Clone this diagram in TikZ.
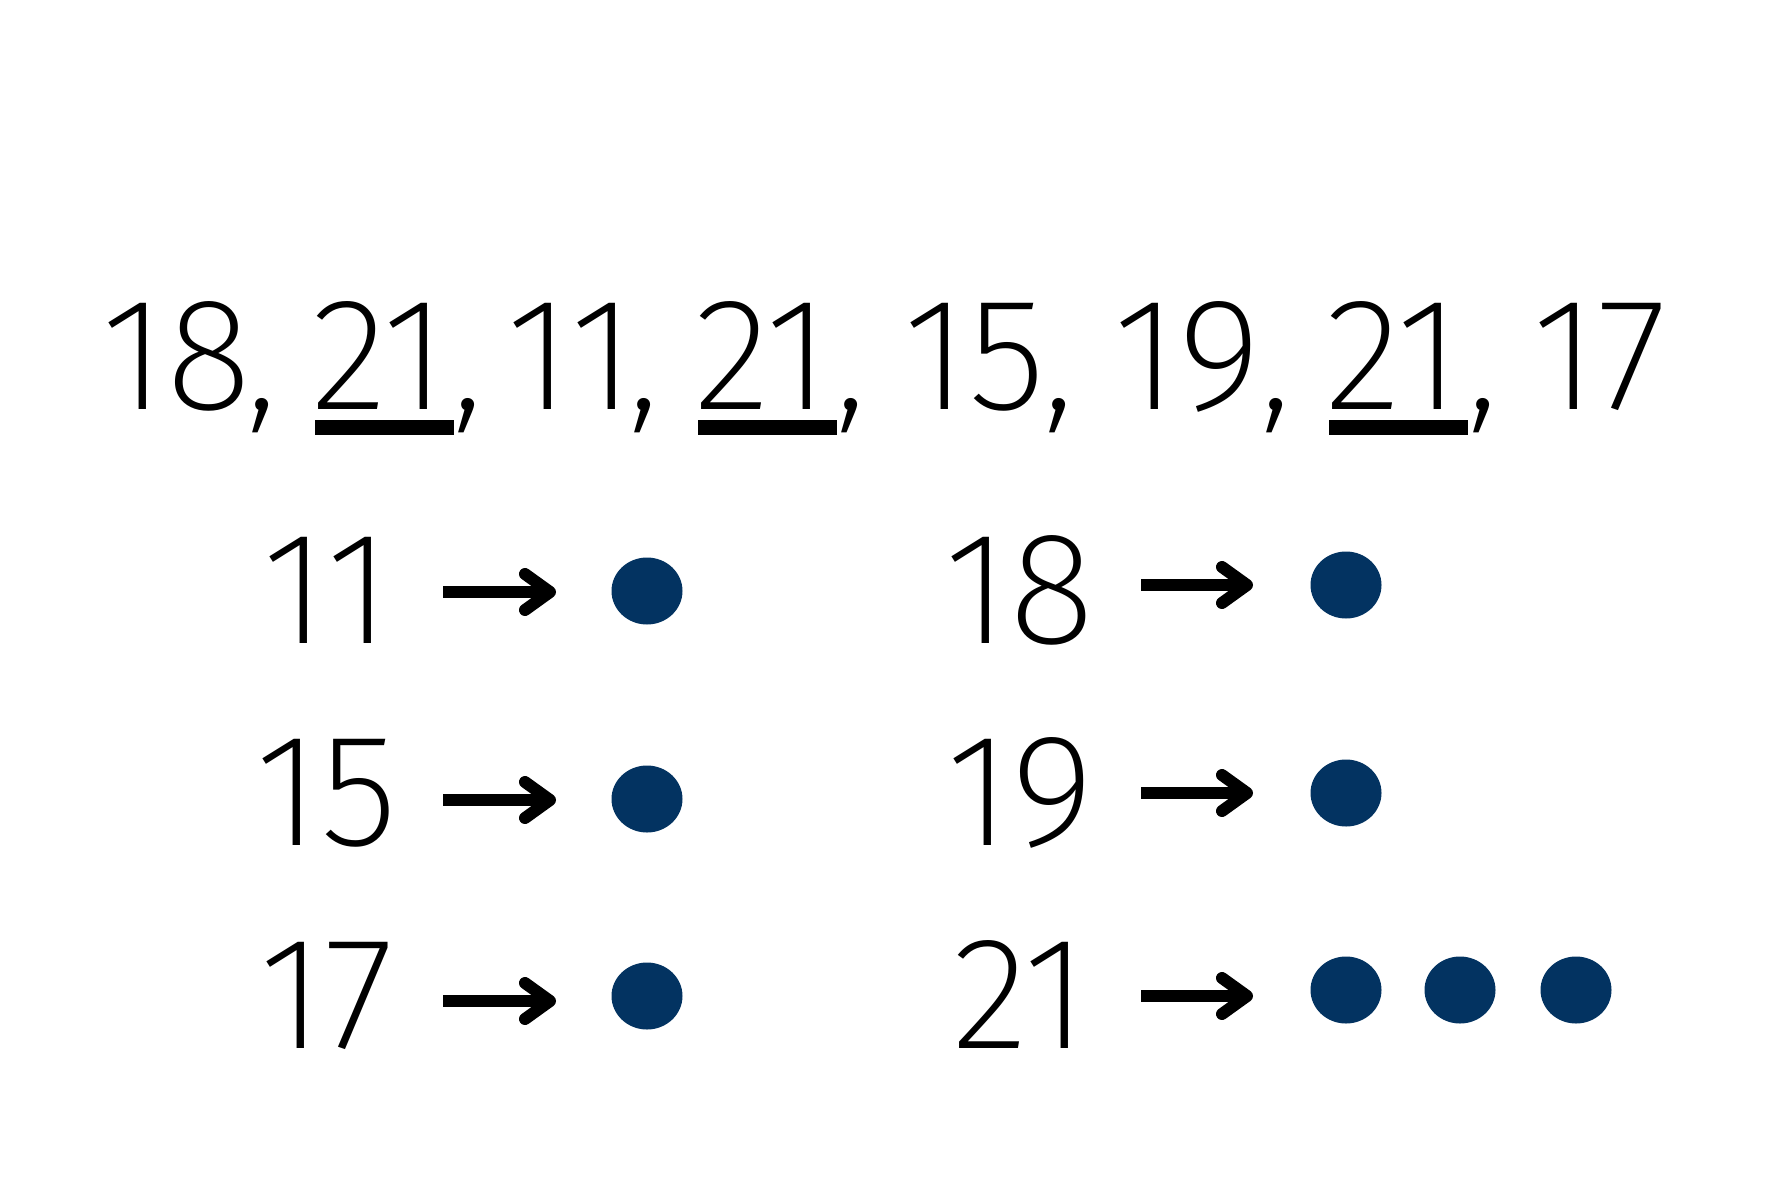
\documentclass[tikz,border=0pt]{standalone}
\usepackage{fontspec}
\setmainfont{Fira Sans ExtraLight}
\usetikzlibrary{calc,shapes.geometric}
\definecolor{dotblue}{RGB}{3,51,97}
\newsavebox\nbox
\newsavebox\cbox
\newcommand\numcomma[2]{\sbox\nbox{#1}\sbox\cbox{,}\usebox\nbox\rlap{\kern\dimexpr #2pt-0.5\wd\nbox-0.5\wd\cbox\relax\usebox\cbox}}
\begin{document}
\begin{tikzpicture}[x=1pt,y=-1pt,
  num/.style={anchor=base, inner sep=0pt, font=\fontsize{160}{170}\selectfont},
  shaft/.style={line width=12pt},
  head/.style={line width=12pt, line cap=round, line join=round},
  bead/.style={ellipse, fill=dotblue, minimum width=71pt, minimum height=67pt, inner sep=0pt},
  uline/.style={fill=black}]
\fill[white] (0,0) rectangle (1772,1181);
\useasboundingbox (0,0) rectangle (1772,1181);
% top row
\foreach \n/\x/\t/\c in {1/177/18/85,2/379/21/89,3/571/11/73,4/762/21/89,5/975/15/84,6/1187/19/89,7/1393/21/90}
  \node[num] (t\n) at (\x,409) {\numcomma{\t}{\c}};
\node[num] (t8) at (1600,409) {17};
\foreach \n in {2,4,7}
  \fill[uline] ($(t\n.base)+(-64,11)$) rectangle ($(t\n.base)+(75,26)$);
% rows
\foreach \n/\x/\y/\t in {1/327/643/11,2/327/845/15,3/327/1048/17,4/1020/643/18,5/1020/845/19,6/1020/1048/21}
  \node[num] (r\n) at (\x,\y) {\t};
\foreach \n/\xs/\xe/\y in {1/443/550/592,2/443/550/800,3/443/550/1001,4/1141/1247/585,5/1141/1247/793,6/1141/1247/996}{
  \coordinate (as\n) at (\xs,\y);
  \coordinate (ae\n) at (\xe,\y);
  \draw[shaft] (as\n) -- ($(ae\n)+(-6,0)$);
  \draw[head] ($(ae\n)+(-25,-18)$) -- (ae\n) -- ($(ae\n)+(-25,18)$);
}
\foreach \n/\x/\y in {1/647/591,2/647/799,3/647/996,4/1346/585,5/1346/793,6/1346/990,7/1460/990,8/1576/990}
  \node[bead] (d\n) at (\x,\y) {};
\end{tikzpicture}
\end{document}
